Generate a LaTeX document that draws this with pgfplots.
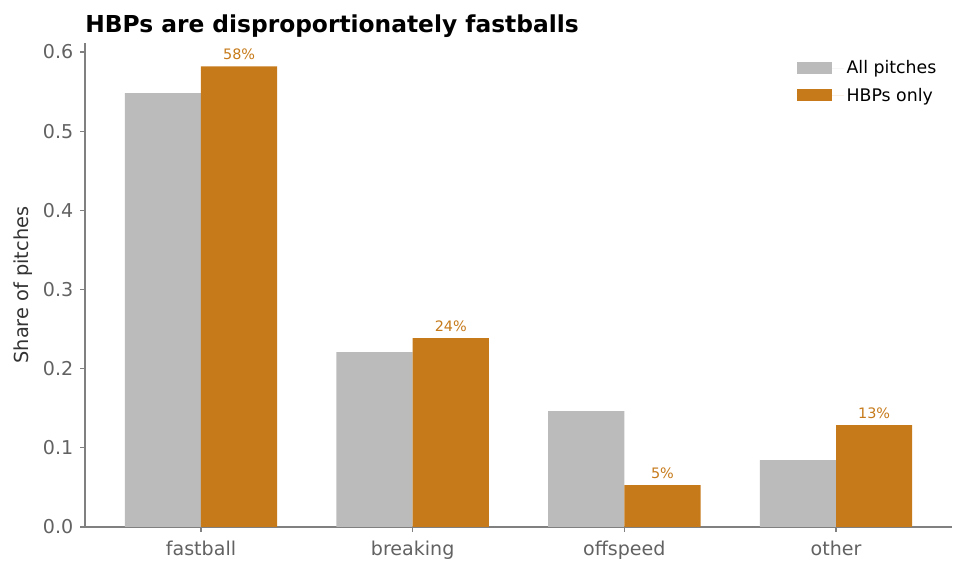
\documentclass[border=0pt]{standalone}
\usepackage{pgfplots}
\pgfplotsset{compat=1.18}
\usepackage{fontspec}
\setmainfont{DejaVu Sans}
\definecolor{allgray}{HTML}{BBBBBB}
\definecolor{hbporange}{HTML}{C67A1A}
\definecolor{ticktext}{HTML}{626262}
\definecolor{spine}{HTML}{808080}
\begin{document}
\begin{tikzpicture}
\useasboundingbox (-63.75pt,-35.25pt) rectangle (660pt,395.25pt);
\begin{axis}[
  scale only axis,
  width=650.25pt, height=363pt,
  xmin=-0.548, xmax=3.548,
  ymin=0, ymax=0.6114,
  ybar, bar width=0.36,
  xtick={0,1,2,3},
  xticklabels={fastball,breaking,offspeed,other},
  ytick={0,0.1,0.2,0.3,0.4,0.5,0.6},
  /pgf/number format/assume math mode=true,
  yticklabel style={xshift=-1.5pt, /pgf/number format/.cd, fixed, fixed zerofill, precision=1},
  ticklabel style={font=\fontsize{14.3}{17}\selectfont, text=ticktext},
  xticklabel style={yshift=-3.5pt},
  axis x line*=bottom, axis y line*=left,
  axis line style={draw=spine, line width=1pt, -},
  tick style={draw=spine, line width=0.8pt},
  tick align=outside, major tick length=3.75pt,
  ylabel={Share of pitches},
  ylabel style={at={(axis description cs:-0.0715,0.5)}, anchor=center, font=\fontsize{14.5}{17}\selectfont, text=black!80},
  title={\textbf{HBPs are disproportionately fastballs}},
  title style={at={(axis description cs:0,1)}, anchor=base west, inner xsep=0pt, yshift=2pt, font=\fontsize{17.5}{20}\selectfont},
  legend style={draw=none, fill=none, at={(0.99,0.975)}, anchor=north east, font=\fontsize{13}{15}\selectfont, row sep=5pt},
  legend cell align=left,
  legend image code/.code={\fill[#1] (0pt,-4.5pt) rectangle (26pt,4.5pt); \path (0pt,0pt) -- (35pt,0pt);},
]
\addplot[fill=allgray, draw=none, bar shift=-0.18] coordinates {(0,0.548) (1,0.221) (2,0.1465) (3,0.0846)};
\addlegendentry{All pitches}
\addplot[fill=hbporange, draw=none, bar shift=0.18,
  nodes near coords, point meta=explicit symbolic,
  nodes near coords style={font=\fontsize{10.8}{12}\selectfont, text=hbporange, anchor=south, yshift=1.5pt}]
  coordinates {(0,0.582) [58\%] (1,0.2386) [24\%] (2,0.053) [5\%] (3,0.1288) [13\%]};
\addlegendentry{HBPs only}
\end{axis}
\end{tikzpicture}
\end{document}
